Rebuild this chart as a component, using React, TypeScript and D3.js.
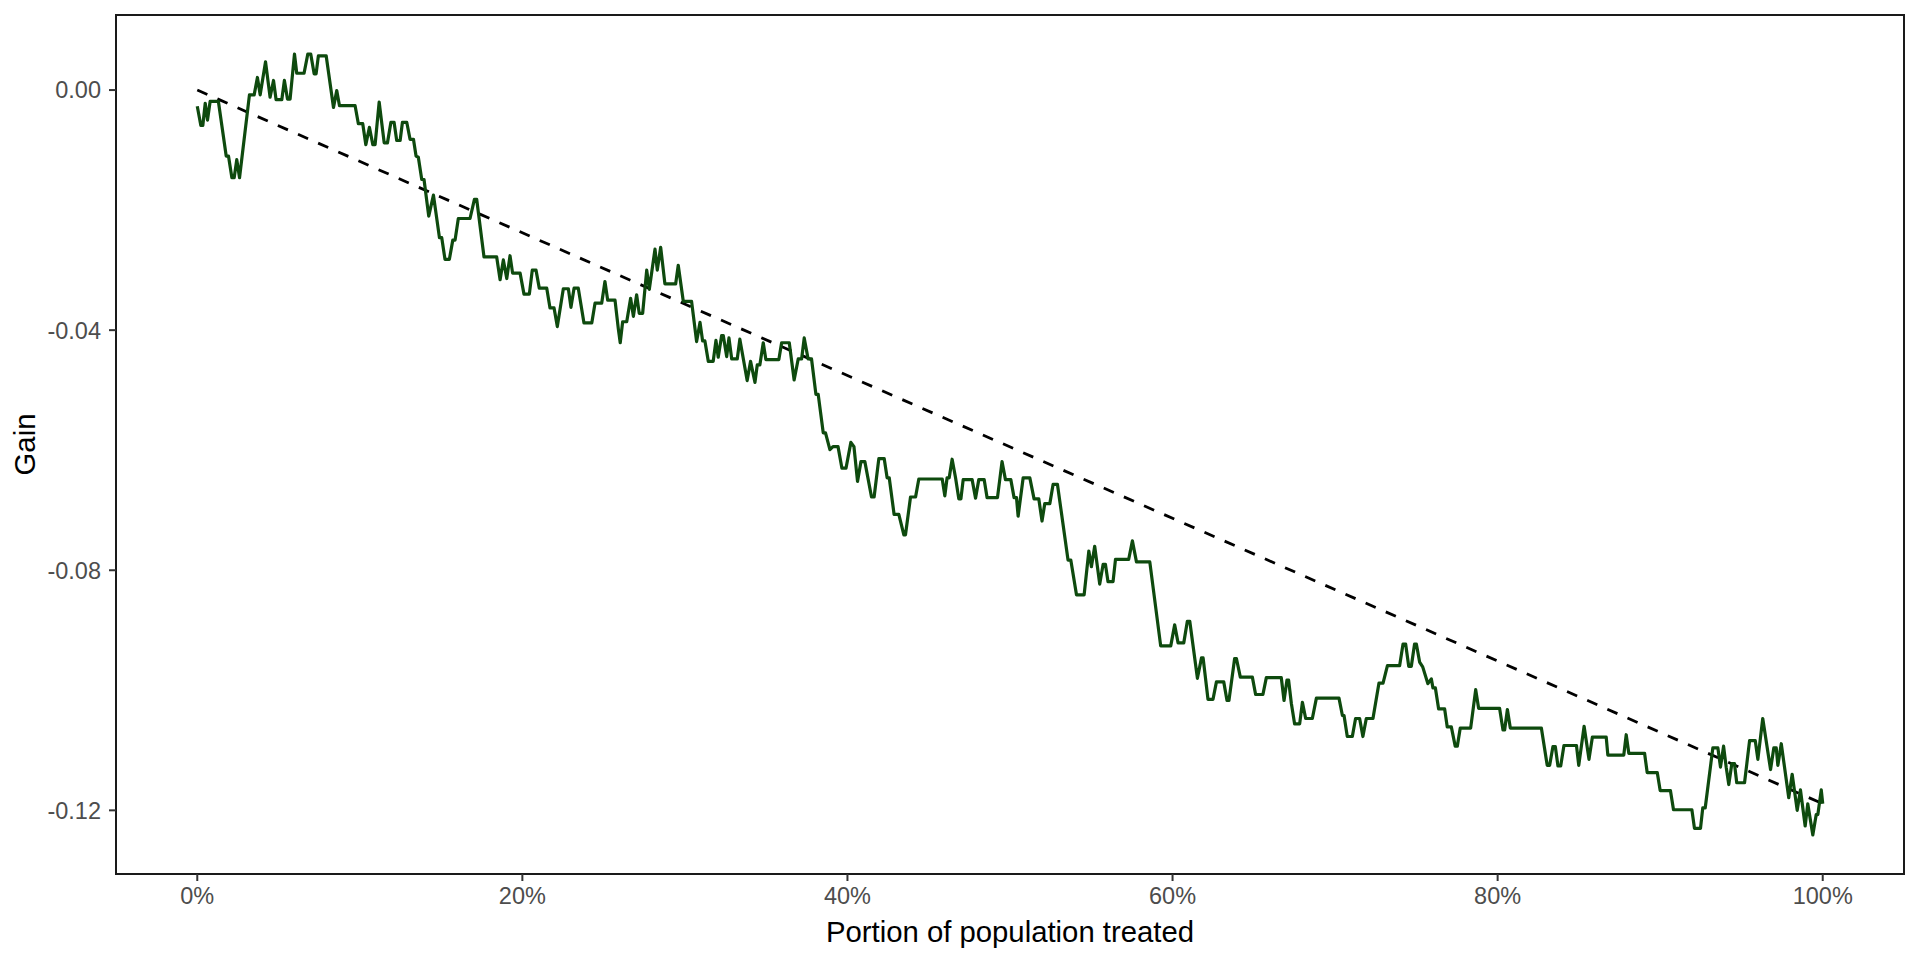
import * as d3 from 'd3';

const WIDTH = 1920;
const HEIGHT = 960;
const PANEL = { left: 116, right: 1904, top: 15, bottom: 874 };

// portion of population treated (0..1)
const portion = [
	0.0000, 0.0022, 0.0034, 0.0049, 0.0063, 0.0079, 0.0130, 0.0178, 0.0192, 0.0213,
	0.0227, 0.0243, 0.0260, 0.0321, 0.0350, 0.0370, 0.0387, 0.0420, 0.0448, 0.0469,
	0.0485, 0.0520, 0.0536, 0.0555, 0.0571, 0.0598, 0.0612, 0.0657, 0.0680, 0.0698,
	0.0719, 0.0731, 0.0745, 0.0793, 0.0838, 0.0858, 0.0875, 0.0971, 0.0991, 0.1018,
	0.1037, 0.1059, 0.1080, 0.1094, 0.1119, 0.1150, 0.1170, 0.1191, 0.1211, 0.1227,
	0.1248, 0.1262, 0.1289, 0.1309, 0.1330, 0.1346, 0.1360, 0.1381, 0.1395, 0.1424,
	0.1453, 0.1490, 0.1504, 0.1524, 0.1551, 0.1572, 0.1586, 0.1606, 0.1678, 0.1705,
	0.1719, 0.1764, 0.1842, 0.1863, 0.1883, 0.1904, 0.1924, 0.1940, 0.1986, 0.2010,
	0.2043, 0.2061, 0.2084, 0.2104, 0.2150, 0.2170, 0.2195, 0.2215, 0.2252, 0.2283,
	0.2299, 0.2318, 0.2344, 0.2379, 0.2427, 0.2447, 0.2488, 0.2508, 0.2525, 0.2570,
	0.2590, 0.2602, 0.2617, 0.2642, 0.2666, 0.2683, 0.2703, 0.2719, 0.2740, 0.2765,
	0.2781, 0.2816, 0.2830, 0.2851, 0.2877, 0.2943, 0.2959, 0.2990, 0.3041, 0.3072,
	0.3093, 0.3109, 0.3123, 0.3144, 0.3174, 0.3191, 0.3205, 0.3226, 0.3236, 0.3257,
	0.3271, 0.3288, 0.3322, 0.3338, 0.3383, 0.3404, 0.3431, 0.3445, 0.3461, 0.3482,
	0.3498, 0.3578, 0.3595, 0.3642, 0.3672, 0.3697, 0.3718, 0.3734, 0.3758, 0.3779,
	0.3806, 0.3820, 0.3851, 0.3865, 0.3892, 0.3911, 0.3942, 0.3966, 0.3991, 0.4021,
	0.4040, 0.4062, 0.4083, 0.4107, 0.4148, 0.4164, 0.4193, 0.4226, 0.4244, 0.4257,
	0.4287, 0.4316, 0.4347, 0.4357, 0.4388, 0.4419, 0.4439, 0.4583, 0.4599, 0.4613,
	0.4626, 0.4644, 0.4665, 0.4685, 0.4698, 0.4712, 0.4767, 0.4788, 0.4808, 0.4841,
	0.4859, 0.4923, 0.4951, 0.4972, 0.5005, 0.5025, 0.5040, 0.5050, 0.5081, 0.5122,
	0.5148, 0.5177, 0.5197, 0.5214, 0.5245, 0.5265, 0.5292, 0.5357, 0.5374, 0.5409,
	0.5456, 0.5485, 0.5501, 0.5521, 0.5552, 0.5573, 0.5587, 0.5603, 0.5634, 0.5649,
	0.5730, 0.5753, 0.5778, 0.5860, 0.5927, 0.5989, 0.6013, 0.6034, 0.6069, 0.6091,
	0.6106, 0.6153, 0.6178, 0.6188, 0.6218, 0.6249, 0.6270, 0.6315, 0.6335, 0.6347,
	0.6382, 0.6393, 0.6417, 0.6491, 0.6511, 0.6556, 0.6577, 0.6669, 0.6686, 0.6704,
	0.6714, 0.6731, 0.6751, 0.6782, 0.6799, 0.6819, 0.6860, 0.6885, 0.7024, 0.7045,
	0.7055, 0.7075, 0.7106, 0.7126, 0.7151, 0.7171, 0.7192, 0.7233, 0.7270, 0.7295,
	0.7322, 0.7397, 0.7418, 0.7434, 0.7453, 0.7469, 0.7489, 0.7500, 0.7520, 0.7539,
	0.7571, 0.7592, 0.7602, 0.7617, 0.7637, 0.7674, 0.7690, 0.7715, 0.7739, 0.7752,
	0.7770, 0.7834, 0.7865, 0.7883, 0.8012, 0.8033, 0.8043, 0.8060, 0.8078, 0.8269,
	0.8305, 0.8320, 0.8340, 0.8355, 0.8371, 0.8388, 0.8408, 0.8485, 0.8499, 0.8532,
	0.8562, 0.8583, 0.8668, 0.8678, 0.8776, 0.8791, 0.8807, 0.8904, 0.8920, 0.8982,
	0.9000, 0.9063, 0.9082, 0.9195, 0.9211, 0.9248, 0.9262, 0.9277, 0.9324, 0.9355,
	0.9371, 0.9390, 0.9406, 0.9422, 0.9441, 0.9457, 0.9471, 0.9519, 0.9550, 0.9585,
	0.9601, 0.9631, 0.9679, 0.9699, 0.9714, 0.9724, 0.9745, 0.9791, 0.9812, 0.9843,
	0.9863, 0.9892, 0.9908, 0.9939, 0.9960, 0.9970, 0.9991, 1.0000,
];

// cumulative gain at each of those points
const gain = [
	-0.0027, -0.0059, -0.0059, -0.0022, -0.0050, -0.0019, -0.0019, -0.0110, -0.0110, -0.0146,
	-0.0146, -0.0116, -0.0146, -0.0008, -0.0008, 0.0021, -0.0008, 0.0047, -0.0012, 0.0016,
	-0.0016, -0.0016, 0.0016, -0.0015, -0.0015, 0.0060, 0.0028, 0.0028, 0.0060, 0.0060,
	0.0027, 0.0027, 0.0057, 0.0057, -0.0029, -0.0001, -0.0026, -0.0026, -0.0056, -0.0056,
	-0.0091, -0.0062, -0.0091, -0.0091, -0.0020, -0.0088, -0.0088, -0.0054, -0.0054, -0.0084,
	-0.0084, -0.0054, -0.0054, -0.0082, -0.0082, -0.0110, -0.0112, -0.0149, -0.0149, -0.0210,
	-0.0175, -0.0246, -0.0246, -0.0282, -0.0282, -0.0250, -0.0250, -0.0214, -0.0214, -0.0182,
	-0.0182, -0.0278, -0.0278, -0.0316, -0.0283, -0.0314, -0.0276, -0.0305, -0.0305, -0.0340,
	-0.0340, -0.0300, -0.0300, -0.0330, -0.0330, -0.0363, -0.0363, -0.0394, -0.0331, -0.0331,
	-0.0362, -0.0330, -0.0330, -0.0388, -0.0388, -0.0355, -0.0355, -0.0319, -0.0350, -0.0350,
	-0.0397, -0.0421, -0.0386, -0.0386, -0.0347, -0.0377, -0.0341, -0.0372, -0.0372, -0.0300,
	-0.0332, -0.0265, -0.0300, -0.0262, -0.0323, -0.0323, -0.0292, -0.0352, -0.0352, -0.0419,
	-0.0387, -0.0418, -0.0418, -0.0452, -0.0452, -0.0417, -0.0445, -0.0409, -0.0409, -0.0444,
	-0.0413, -0.0448, -0.0448, -0.0415, -0.0484, -0.0452, -0.0487, -0.0458, -0.0458, -0.0421,
	-0.0449, -0.0449, -0.0421, -0.0421, -0.0483, -0.0448, -0.0448, -0.0413, -0.0448, -0.0448,
	-0.0507, -0.0507, -0.0571, -0.0571, -0.0599, -0.0594, -0.0594, -0.0630, -0.0630, -0.0587,
	-0.0594, -0.0652, -0.0619, -0.0619, -0.0678, -0.0678, -0.0614, -0.0614, -0.0646, -0.0646,
	-0.0707, -0.0707, -0.0741, -0.0741, -0.0678, -0.0678, -0.0648, -0.0648, -0.0676, -0.0646,
	-0.0646, -0.0615, -0.0646, -0.0681, -0.0681, -0.0649, -0.0649, -0.0680, -0.0649, -0.0649,
	-0.0679, -0.0679, -0.0619, -0.0649, -0.0649, -0.0679, -0.0679, -0.0710, -0.0646, -0.0646,
	-0.0681, -0.0681, -0.0718, -0.0689, -0.0689, -0.0657, -0.0657, -0.0783, -0.0783, -0.0841,
	-0.0841, -0.0768, -0.0794, -0.0760, -0.0823, -0.0790, -0.0790, -0.0819, -0.0819, -0.0782,
	-0.0782, -0.0751, -0.0786, -0.0786, -0.0926, -0.0926, -0.0891, -0.0921, -0.0921, -0.0885,
	-0.0885, -0.0980, -0.0946, -0.0946, -0.1015, -0.1015, -0.0986, -0.0986, -0.1017, -0.1017,
	-0.0947, -0.0947, -0.0978, -0.0978, -0.1007, -0.1007, -0.0979, -0.0979, -0.1017, -0.0983,
	-0.0983, -0.1022, -0.1056, -0.1056, -0.1020, -0.1047, -0.1047, -0.1013, -0.1013, -0.1042,
	-0.1042, -0.1077, -0.1077, -0.1047, -0.1047, -0.1077, -0.1047, -0.1047, -0.0988, -0.0988,
	-0.0959, -0.0959, -0.0923, -0.0923, -0.0960, -0.0960, -0.0923, -0.0923, -0.0953, -0.0961,
	-0.0989, -0.0981, -0.0996, -0.0996, -0.1031, -0.1031, -0.1061, -0.1061, -0.1093, -0.1093,
	-0.1063, -0.1063, -0.0999, -0.1030, -0.1030, -0.1066, -0.1066, -0.1032, -0.1063, -0.1063,
	-0.1125, -0.1125, -0.1094, -0.1094, -0.1126, -0.1126, -0.1092, -0.1092, -0.1125, -0.1060,
	-0.1115, -0.1078, -0.1078, -0.1108, -0.1108, -0.1074, -0.1105, -0.1105, -0.1137, -0.1137,
	-0.1167, -0.1167, -0.1199, -0.1199, -0.1230, -0.1230, -0.1196, -0.1196, -0.1096, -0.1096,
	-0.1128, -0.1093, -0.1128, -0.1157, -0.1122, -0.1122, -0.1154, -0.1154, -0.1084, -0.1084,
	-0.1115, -0.1047, -0.1132, -0.1096, -0.1096, -0.1125, -0.1089, -0.1179, -0.1140, -0.1200,
	-0.1166, -0.1226, -0.1189, -0.1241, -0.1207, -0.1207, -0.1166, -0.1189,
];

// random-targeting reference line: from (0, 0) to (1, final gain)
const referencePortion = [0, 1];
const referenceGain = [0, -0.1189];

const xTicks = [0, 0.2, 0.4, 0.6, 0.8, 1];
const xTickLabels = ['0%', '20%', '40%', '60%', '80%', '100%'];
const yTicks = [0, -0.04, -0.08, -0.12];
const yTickLabels = ['0.00', '-0.04', '-0.08', '-0.12'];

const X_TITLE = 'Portion of population treated';
const Y_TITLE = 'Gain';

const FONT = '"Liberation Sans", Arial, Helvetica, sans-serif';
const LINE_COLOR = '#0e4a0e';

// ggplot-style 5% expansion around the data range
function expand([lo, hi]: [number, number], mult = 0.05): [number, number] {
	const pad = (hi - lo) * mult;
	return [lo - pad, hi + pad];
}

const App = () => {
	const xScale = d3.scaleLinear()
		.domain(expand([0, 1]))
		.range([PANEL.left, PANEL.right]);

	const yExtent = d3.extent([...gain, ...referenceGain]) as [number, number];
	const yScale = d3.scaleLinear()
		.domain(expand(yExtent))
		.range([PANEL.bottom, PANEL.top]);

	const line = d3.line<number>()
		.x((_, i) => xScale(portion[i]))
		.y(d => yScale(d));

	const refLine = d3.line<number>()
		.x((_, i) => xScale(referencePortion[i]))
		.y(d => yScale(d));

	const tickLen = 7;
	const panelMidX = (PANEL.left + PANEL.right) / 2;
	const panelMidY = (PANEL.top + PANEL.bottom) / 2;

	return (
		<svg
			width={WIDTH}
			height={HEIGHT}
			style={{ position: 'absolute', left: 0, top: 0, background: '#fff' }}
			fontFamily={FONT}
		>
			<rect x={0} y={0} width={WIDTH} height={HEIGHT} fill="#fff" />

			{/* data */}
			<path
				d={refLine(referenceGain) ?? ''}
				fill="none"
				stroke="#000"
				strokeWidth={2.8}
				strokeDasharray="11 11"
			/>
			<path
				d={line(gain) ?? ''}
				fill="none"
				stroke={LINE_COLOR}
				strokeWidth={3.2}
				strokeLinejoin="round"
			/>

			{/* panel border */}
			<rect
				x={PANEL.left}
				y={PANEL.top}
				width={PANEL.right - PANEL.left}
				height={PANEL.bottom - PANEL.top}
				fill="none"
				stroke="#1a1a1a"
				strokeWidth={2}
			/>

			{/* x axis */}
			{xTicks.map((t, i) => (
				<g key={'x' + i}>
					<line
						x1={xScale(t)} x2={xScale(t)}
						y1={PANEL.bottom} y2={PANEL.bottom + tickLen}
						stroke="#333" strokeWidth={2}
					/>
					<text
						x={xScale(t)} y={PANEL.bottom + 30}
						textAnchor="middle" fontSize={23.5} fill="#4d4d4d"
					>{xTickLabels[i]}</text>
				</g>
			))}

			{/* y axis */}
			{yTicks.map((t, i) => (
				<g key={'y' + i}>
					<line
						x1={PANEL.left - tickLen} x2={PANEL.left}
						y1={yScale(t)} y2={yScale(t)}
						stroke="#333" strokeWidth={2}
					/>
					<text
						x={PANEL.left - 15} y={yScale(t) + 8.4}
						textAnchor="end" fontSize={23.5} fill="#4d4d4d"
					>{yTickLabels[i]}</text>
				</g>
			))}

			<text x={panelMidX} y={942} textAnchor="middle" fontSize={29.3} fill="#000">
				{X_TITLE}
			</text>
			<text
				transform={`translate(35, ${panelMidY}) rotate(-90)`}
				textAnchor="middle" fontSize={29.3} fill="#000"
			>
				{Y_TITLE}
			</text>
		</svg>
	);
};

export default App;
